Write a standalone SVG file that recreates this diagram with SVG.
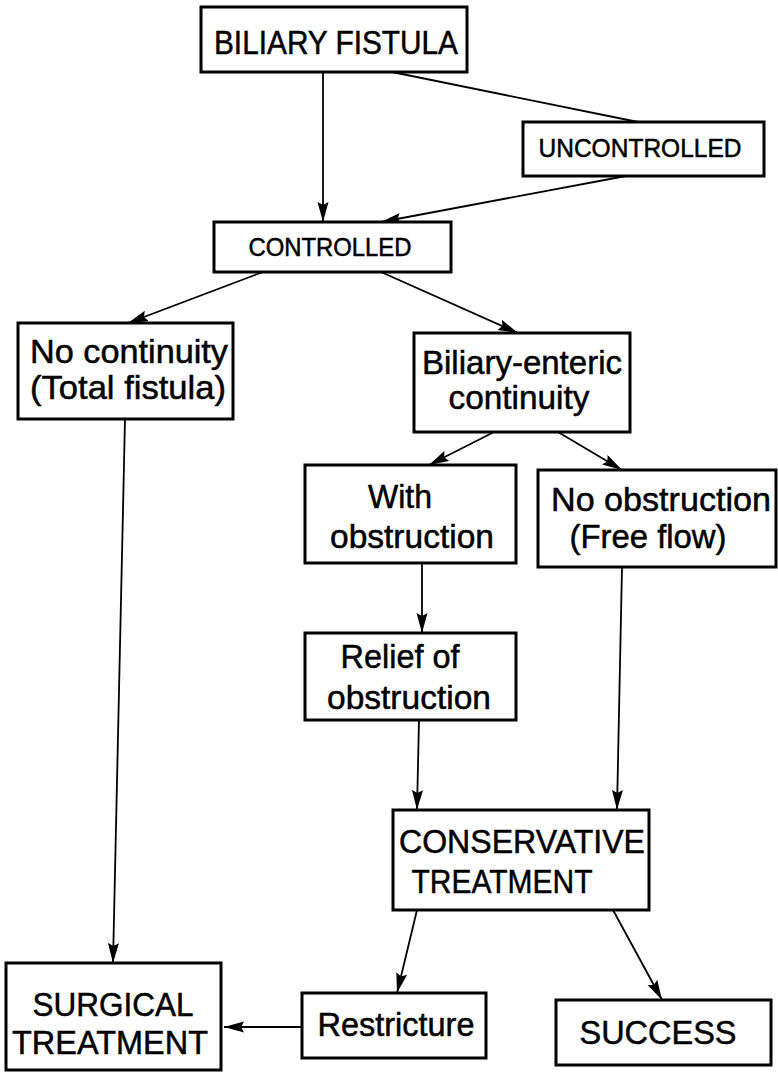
<svg xmlns="http://www.w3.org/2000/svg" width="778" height="1074" viewBox="0 0 778 1074">
<style>
.box{fill:#fff;stroke:#000;stroke-width:3}
.t{font-family:"Liberation Sans",Arial,sans-serif;fill:#000;stroke:#000;stroke-width:0.5;text-anchor:middle}
.big{font-size:33px}
.small{font-size:25px}
.c{stroke:#000;stroke-width:1.8;fill:none}
</style>
<defs>
<marker id="ah" markerUnits="userSpaceOnUse" markerWidth="22" markerHeight="12" refX="20" refY="5.5" orient="auto">
<path d="M0,0 L20,5.5 L0,11 L3,5.5 z" fill="#000"/>
</marker>
</defs>
<rect width="778" height="1074" fill="#fff"/>
<g id="connectors">
<line class="c" x1="323" y1="72" x2="323" y2="222" marker-end="url(#ah)"/>
<line class="c" x1="392" y1="72" x2="638" y2="122"/>
<line class="c" x1="626" y1="176" x2="381" y2="222" marker-end="url(#ah)"/>
<line class="c" x1="263" y1="272" x2="128" y2="323" marker-end="url(#ah)"/>
<line class="c" x1="381" y1="272" x2="518" y2="333" marker-end="url(#ah)"/>
<line class="c" x1="494" y1="432" x2="429" y2="465" marker-end="url(#ah)"/>
<line class="c" x1="558" y1="432" x2="622" y2="470" marker-end="url(#ah)"/>
<line class="c" x1="422" y1="563" x2="422" y2="633" marker-end="url(#ah)"/>
<line class="c" x1="419" y1="720" x2="417" y2="810" marker-end="url(#ah)"/>
<line class="c" x1="622" y1="567" x2="617" y2="810" marker-end="url(#ah)"/>
<line class="c" x1="125" y1="419" x2="113" y2="963" marker-end="url(#ah)"/>
<line class="c" x1="417" y1="910" x2="397" y2="993" marker-end="url(#ah)"/>
<line class="c" x1="613" y1="910" x2="662" y2="1000" marker-end="url(#ah)"/>
<line class="c" x1="302" y1="1027" x2="224" y2="1027" marker-end="url(#ah)"/>
</g>
<g id="biliary-fistula">
<rect class="box" x="201" y="7" width="266" height="65"/>
<text class="t big" x="336" y="54" textLength="244" lengthAdjust="spacingAndGlyphs">BILIARY FISTULA</text>
</g>
<g id="uncontrolled">
<rect class="box" x="523" y="122" width="241" height="54"/>
<text class="t small" x="640" y="157" textLength="203" lengthAdjust="spacingAndGlyphs">UNCONTROLLED</text>
</g>
<g id="controlled">
<rect class="box" x="214" y="222" width="237" height="50"/>
<text class="t small" x="330" y="256" textLength="163" lengthAdjust="spacingAndGlyphs">CONTROLLED</text>
</g>
<g id="no-continuity">
<rect class="box" x="18" y="323" width="215" height="96"/>
<text class="t big" x="129" y="363" textLength="198" lengthAdjust="spacingAndGlyphs">No continuity</text>
<text class="t big" x="128" y="399" textLength="196" lengthAdjust="spacingAndGlyphs">(Total fistula)</text>
</g>
<g id="biliary-enteric">
<rect class="box" x="414" y="333" width="216" height="99"/>
<text class="t big" x="522" y="374" textLength="200" lengthAdjust="spacingAndGlyphs">Biliary-enteric</text>
<text class="t big" x="519" y="409" textLength="141" lengthAdjust="spacingAndGlyphs">continuity</text>
</g>
<g id="with-obstruction">
<rect class="box" x="305" y="465" width="211" height="98"/>
<text class="t big" x="400" y="508" textLength="64" lengthAdjust="spacingAndGlyphs">With</text>
<text class="t big" x="412" y="548" textLength="164" lengthAdjust="spacingAndGlyphs">obstruction</text>
</g>
<g id="no-obstruction">
<rect class="box" x="538" y="470" width="238" height="97"/>
<text class="t big" x="661" y="511" textLength="220" lengthAdjust="spacingAndGlyphs">No obstruction</text>
<text class="t big" x="648" y="548" textLength="157" lengthAdjust="spacingAndGlyphs">(Free flow)</text>
</g>
<g id="relief">
<rect class="box" x="305" y="633" width="211" height="87"/>
<text class="t big" x="400" y="668" textLength="119" lengthAdjust="spacingAndGlyphs">Relief of</text>
<text class="t big" x="409" y="709" textLength="164" lengthAdjust="spacingAndGlyphs">obstruction</text>
</g>
<g id="conservative">
<rect class="box" x="393" y="810" width="256" height="100"/>
<text class="t big" x="522" y="853" textLength="246" lengthAdjust="spacingAndGlyphs">CONSERVATIVE</text>
<text class="t big" x="502" y="893" textLength="181" lengthAdjust="spacingAndGlyphs">TREATMENT</text>
</g>
<g id="surgical">
<rect class="box" x="6" y="963" width="215" height="107"/>
<text class="t big" x="113" y="1016" textLength="161" lengthAdjust="spacingAndGlyphs">SURGICAL</text>
<text class="t big" x="110" y="1054" textLength="196" lengthAdjust="spacingAndGlyphs">TREATMENT</text>
</g>
<g id="restricture">
<rect class="box" x="302" y="993" width="184" height="65"/>
<text class="t big" x="396" y="1036" textLength="157" lengthAdjust="spacingAndGlyphs">Restricture</text>
</g>
<g id="success">
<rect class="box" x="556" y="1000" width="215" height="65"/>
<text class="t big" x="658" y="1044" textLength="157" lengthAdjust="spacingAndGlyphs">SUCCESS</text>
</g>
</svg>
